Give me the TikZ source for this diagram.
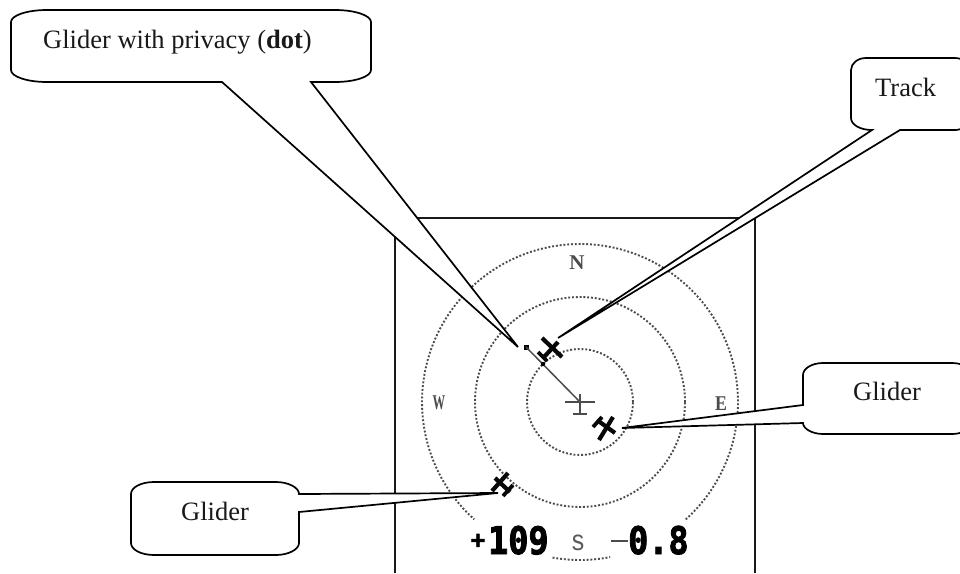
\documentclass[tikz,border=0pt]{standalone}
\usepackage{graphicx}
\usepackage{fontspec}
\setmainfont{Liberation Serif}
\newfontfamily\lcdfont[FakeBold=2.5]{DejaVu Sans Mono Bold}
\newfontfamily\radfont{Liberation Mono}
\definecolor{inkc}{gray}{0.03}
\definecolor{radc}{gray}{0.3}
\tikzset{
  callout/.style={draw=black,fill=white,line width=1.7pt,line join=miter},
  label/.style={inner sep=0pt,anchor=base west,font=\fontsize{26.5}{30}\selectfont,text=black!90},
  ring/.style={draw=radc,line width=1.9pt,dash pattern=on 1.9pt off 1.9pt},
  framel/.style={draw=black!90,line width=1.8pt},
  plane/.style={draw=inkc,line width=4.2pt},
  planetail/.style={draw=inkc,line width=3.8pt},
  own/.style={draw=black!70,line width=1.8pt},
  compass/.style={inner sep=0pt,anchor=center,text=black!70,font=\bfseries\fontsize{21}{21}\selectfont},
  big/.style={inner sep=0pt,anchor=base west,text=black,font=\lcdfont\fontsize{38}{38}\selectfont}
}
\begin{document}
\begin{tikzpicture}[x=1pt,y=-1pt]
\useasboundingbox (0,0) rectangle (960,573);
\clip (0,0) rectangle (960,573);
\fill[white] (0,0) rectangle (960,573);
% instrument frame
\draw[framel] (395,573) -- (395,218) -- (755,218) -- (755,573);
% range rings
\coordinate (ctr) at (580,402);
\draw[ring] (ctr) circle[radius=53pt];
\draw[ring] (ctr) circle[radius=105pt];
\draw[ring] plot[domain=-48:228,samples=140] ({580+158*cos(\x)},{402-158*sin(\x)});
\draw[ring] plot[domain=-100:-79,samples=12] ({580+158*cos(\x)},{402-158*sin(\x)});
% compass letters
\node[compass] (n) at (577,263) {N};
\node[compass] (w) at (439,403) {\scalebox{.6}[1]{W}};
\node[compass] (e) at (721,404) {\scalebox{.85}[1]{E}};
\node[inner sep=0pt,anchor=center,text=black!65,font=\radfont\fontsize{29}{29}\selectfont] (s) at (578,543) {\scalebox{.85}[1]{s}};
% readouts
\node[inner sep=0pt,anchor=center,text=black,font=\lcdfont\fontsize{24}{24}\selectfont] (plus) at (478,541) {+};
\node[big] (alt) at (488,554) {\scalebox{.88}[1]{109}};
\draw[own,line width=2pt] (611,541) -- (628,541);
\node[big] (vario) at (628,554) {\scalebox{.88}[1]{0.8}};
% own aircraft and track
\draw[own] (565,402) -- (595,402);
\draw[own] (580,394) -- (580,414);
\draw[own] (573,414) -- (587,414);
\fill[black] (523.5,344.5) rectangle (528.5,349.5);
\draw[black!70,line width=1.5pt] (526,347) -- (ctr);
\fill[black] (543,364) circle[radius=2.2pt];
% gliders
\draw[plane] (542,338) -- (562,357);
\draw[plane] (558,342) -- (544,357);
\draw[planetail] (538,352) -- (547,361);
\draw[plane] (613,417) -- (599,440);
\draw[plane] (597,420) -- (615,433);
\draw[planetail] (593,427) -- (602,417);
\draw[plane] (508,473) -- (492,491);
\draw[plane] (495,478) -- (510,492);
\draw[planetail] (503,496) -- (513,485);
% callouts
\draw[callout] (11,22) .. controls (11,15.4) and (27,10) .. (47,10) -- (335,10)
  .. controls (355,10) and (371,15.4) .. (371,22) -- (371,70)
  .. controls (371,76.6) and (355,82) .. (335,82) -- (311,82) -- (518,347) -- (222,82) -- (47,82)
  .. controls (27,82) and (11,76.6) .. (11,70) -- cycle;
\draw[callout] (851,70) .. controls (851,63.4) and (857.7,58) .. (866,58) -- (955,58)
  .. controls (963,58) and (970,63.4) .. (970,70) -- (970,118)
  .. controls (970,124.6) and (963,130) .. (955,130) -- (900,130) -- (558,338) -- (872,130)
  .. controls (860,130) and (851,124.6) .. (851,118) -- cycle;
\draw[callout] (803,375) .. controls (803,368.4) and (812,363) .. (823,363) -- (952,363)
  .. controls (963,363) and (972,368.4) .. (972,375) -- (972,422)
  .. controls (972,428.6) and (963,434) .. (952,434) -- (823,434)
  .. controls (812,434) and (803,428.6) .. (803,423) -- (622,428) -- (803,405) -- cycle;
\draw[callout] (131,494) .. controls (131,487.4) and (141,482) .. (154,482) -- (276,482)
  .. controls (288,482) and (299,487.4) .. (299,494) -- (498,493) -- (299,512) -- (299,543)
  .. controls (299,549.6) and (288,555) .. (276,555) -- (154,555)
  .. controls (141,555) and (131,549.6) .. (131,543) -- cycle;
% callout texts
\node[label] (t1) at (43,48) {Glider with privacy (\textbf{dot})};
\node[label] (t2) at (875,96) {Track};
\node[label] (t3) at (853,400) {Glider};
\node[label] (t4) at (181,520) {Glider};
\end{tikzpicture}
\end{document}
